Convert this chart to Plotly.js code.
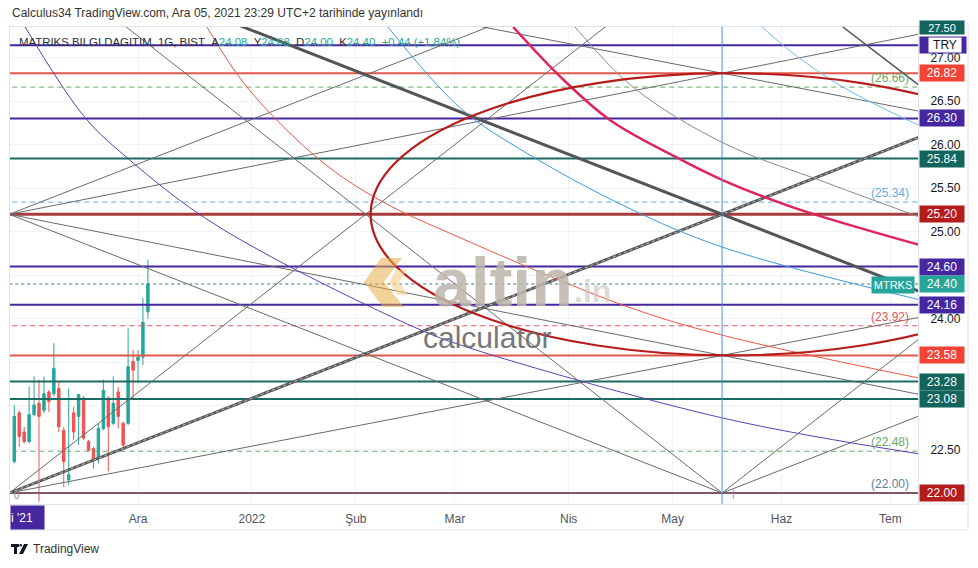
<!DOCTYPE html>
<html><head><meta charset="utf-8">
<script src="https://cdn.plot.ly/plotly-3.0.1.min.js"></script>
<style>html,body{margin:0;padding:0;background:#fff;}#chart{width:978px;height:568px;}</style>
</head><body><div id="chart"></div>
<script>
// ================= DATA =================
const candleDates = ['2021-10-26','2021-10-27','2021-10-28','2021-11-01','2021-11-02','2021-11-03','2021-11-04','2021-11-05','2021-11-08','2021-11-09','2021-11-10','2021-11-11','2021-11-12','2021-11-15','2021-11-16','2021-11-17','2021-11-18','2021-11-19','2021-11-22','2021-11-23','2021-11-24','2021-11-25','2021-11-26','2021-11-29','2021-11-30','2021-12-01','2021-12-02','2021-12-03'];
const candleOpen  = [22.36,22.92,22.70,22.59,22.90,23.03,22.95,23.16,23.14,23.20,22.72,22.15,22.92,22.88,23.09,22.59,22.51,22.40,22.74,23.09,22.80,23.16,22.80,22.80,23.51,23.52,23.56,24.08];
const candleHigh  = [23.01,22.95,22.76,23.22,23.34,23.30,23.34,23.18,23.72,23.28,22.76,23.20,22.99,23.14,23.11,22.61,22.53,22.80,23.30,23.11,23.34,23.22,22.82,23.89,23.64,23.64,24.24,24.68];
const candleLow   = [22.34,22.53,22.57,22.57,22.88,21.90,22.92,22.93,23.11,22.70,22.07,22.09,22.61,22.55,22.61,22.48,22.28,22.34,22.72,22.25,22.78,22.74,22.53,22.78,23.09,23.26,23.47,24.00];
const candleClose = [22.88,22.65,22.59,22.90,23.01,22.88,23.14,23.05,23.43,22.76,22.36,22.21,22.70,23.13,22.63,22.49,22.38,22.74,23.18,22.76,23.03,22.88,22.55,23.45,23.41,23.56,23.96,24.40];
const holidays = ['2021-10-29'];
const originDate = '2021-12-01';

const monthTickDates = ['2021-12-01','2022-01-03','2022-02-01','2022-03-01','2022-04-01','2022-05-02','2022-06-01','2022-07-01'];
const monthTickText  = ['Ara','2022','Şub','Mar','Nis','May','Haz','Tem'];

const priceTickVals  = [22.00,22.50,23.00,23.50,24.00,24.50,25.00,25.50,26.00,26.50,27.00,27.50];
const priceTickText  = ['','22.50','','','24.00','','25.00','25.50','26.00','26.50','27.00',''];

// horizontal levels
const solidLevels     = [27.14, 26.82, 26.30, 25.84, 25.20, 24.60, 24.16, 23.58, 23.28, 23.08, 22.00];
const solidLevelKinds = ['purple','red','purple','teal','darkred','purple','purple','red','teal','teal','brown'];
const dashedLevels    = [26.66, 25.34, 23.92, 22.48];
const dashedKinds     = ['green','blue','red','green'];
const lastPrice = 24.40;
const symbolName = 'MTRKS';

// fan / grid drawing anchors (bar offsets from 1 Ara 2021, prices)
const fanStartBar = -26, fanEndBar = 118;
const pLow = 22.00, pMid = 25.20, pHigh = 28.40, pUp = 26.82, pDn = 23.58;
const ellipseBars = [47, 192];
const ellipsePrices = [23.58, 26.82];

// arcs (bar, price)
const arcPurpleBar = [-22.8,-10.7,-1.6,11.9,27.3,55.6,65.1,118.2,157.8];
const arcPurplePx  = [27.35,26.31,25.82,25.22,24.70,23.91,23.70,22.86,22.45];
const arcRedBar = [13.9,22.0,36.8,48.9,65.1,98.8,118.2,157.8];
const arcRedPx  = [27.35,26.66,25.82,25.36,24.93,24.14,23.81,23.32];
const arcBlueBar = [50.5,65.1,78.6,98.8,118.2,157.8];
const arcBluePx  = [27.35,26.42,25.90,25.28,24.82,24.22];
const arcPinkBar = [75.8,85.3,95.4,108.9,118.2,132.3,157.8];
const arcPinkPx  = [27.35,26.78,26.28,25.85,25.59,25.28,24.85];
const arcGrayBar = [88.3,100.0,118.2,139.2,157.8];
const arcGrayPx  = [27.35,26.66,26.02,25.56,25.17];
const arcBlue2Bar = [126.1,132.3,142.4,157.8];
const arcBlue2Px  = [27.35,27.05,26.66,26.22];
const arcDarkBar = [142.4,157.8];
const arcDarkPx  = [27.35,26.68];

// ================= HELPERS =================
function tradingIndex(s){
  const d = new Date(s+'T00:00:00Z'), o = new Date(originDate+'T00:00:00Z');
  let n = 0; const step = d >= o ? 1 : -1; const cur = new Date(o);
  while (cur.getTime() !== d.getTime()){
    cur.setUTCDate(cur.getUTCDate()+step);
    const wd = cur.getUTCDay(), iso = cur.toISOString().slice(0,10);
    if (wd!==0 && wd!==6 && !holidays.includes(iso)) n += step;
  }
  return n;
}
const FONT = 'Liberation Sans, Arial, sans-serif';
const PL=10, PR=918, PT=27, PB=504, PW=PR-PL, PH=PB-PT;
const PX = p => (p-PL)/PW, PY = p => (PB-p)/PH;
const XMIN=-25.86, XMAX=157.58, YMIN=21.874, YMAX=27.35;
const EXT = 175;

const lineColor = {purple:'#4527a0', red:'#e0584b', teal:'#1a6b63', darkred:'#a63c3c', brown:'#7e5866'};
const lineWidth = {purple:2, red:2, teal:2, darkred:3, brown:2};
const boxColor  = {purple:'#4527a0', red:'#f44336', teal:'#12645c', darkred:'#b71c1c', brown:'#b71c1c'};
const dashColor = {green:'#66a866', blue:'#62aee6', red:'#e25555'};

const traces = [];
traces.push({type:'candlestick', x:candleDates.map(tradingIndex), open:candleOpen, high:candleHigh, low:candleLow, close:candleClose,
  increasing:{line:{color:'#26a69a',width:1}, fillcolor:'#26a69a'},
  decreasing:{line:{color:'#ef5350',width:1}, fillcolor:'#ef5350'},
  whiskerwidth:0, hoverinfo:'skip', showlegend:false});

function seg(x0,y0,x1,y1,ext){
  if(ext){ const k=(y1-y0)/(x1-x0); return [[x0,EXT],[y0,y0+k*(EXT-x0)]]; }
  return [[x0,x1],[y0,y1]];
}
function addLine(s, color, width, dash){
  traces.push({type:'scatter', mode:'lines', x:s[0], y:s[1], line:{color, width, dash:dash||'solid'}, hoverinfo:'skip', showlegend:false});
}
solidLevels.forEach((v,i)=>{ const k=solidLevelKinds[i]; addLine([[XMIN-5,EXT],[v,v]], lineColor[k], lineWidth[k]); });
dashedLevels.forEach((v,i)=>{ addLine([[XMIN-5,EXT],[v,v]], dashColor[dashedKinds[i]], 1, '5px,4px'); });
addLine([[XMIN-5,EXT],[lastPrice,lastPrice]], '#3f7c76', 1, 'dot');

const X0=fanStartBar, X1=fanEndBar, X2=2*fanEndBar-fanStartBar;
const thin='#6a6a6a';
[[X0,pMid,X1,pHigh,true],[X0,pMid,X1,pUp,true],[X0,pMid,X1,pDn,true],[X0,pMid,X1,pLow,false],
 [X0,pLow,X1,pHigh,true],[X0,pLow,X1,pDn,true],[X0,pHigh,X1,pLow,false],[X0,pHigh,X1,pUp,true],
 [X1,pLow,X2,pHigh,false],[X1,pLow,X2,pMid,false]].forEach(l=>addLine(seg(...l), thin, 1));
addLine(seg(X0,pLow,X1,pMid,true), '#5a5a5a', 3);
addLine(seg(X0,pLow,X1,pMid,true), '#b8b8b8', 1, 'dot');
addLine(seg(X0,pHigh,X1,pMid,true), '#555555', 3);

function addArc(xs,ys,color,width){ traces.push({type:'scatter',mode:'lines',x:xs,y:ys,line:{color,width,shape:'spline',smoothing:1},hoverinfo:'skip',showlegend:false}); }
addArc(arcPurpleBar, arcPurplePx, '#5e3fb5', 1);
addArc(arcRedBar, arcRedPx, '#f05545', 1);
addArc(arcBlueBar, arcBluePx, '#3f9be0', 1);
addArc(arcPinkBar, arcPinkPx, '#e0245e', 2.5);
addArc(arcGrayBar, arcGrayPx, '#8a8a8a', 1);
addArc(arcBlue2Bar, arcBlue2Px, '#74b8ee', 1);
addArc(arcDarkBar, arcDarkPx, '#555555', 1.5);
addLine([[fanEndBar,fanEndBar],[YMIN-1,YMAX+1]], '#4a90d9', 1);

// ================= ANNOTATIONS =================
const ann = [];
function axisBox(v, bg, txt){
  ann.push({xref:'paper', yref:'y', x:1, y:v, xanchor:'left', yanchor:'middle', xshift:1, text:txt, showarrow:false,
    bgcolor:bg, width:44, height:16, borderpad:0, font:{family:FONT, size:12, color:'#ffffff'}});
}
solidLevels.forEach((v,i)=>{ if(i>0) axisBox(v, boxColor[solidLevelKinds[i]], v.toFixed(2)); });
axisBox(lastPrice, '#26a69a', lastPrice.toFixed(2));
ann.push({xref:'paper', yref:'y', x:1, y:solidLevels[0], xanchor:'left', yanchor:'middle', xshift:1, text:' ', showarrow:false, bgcolor:boxColor.purple, width:46, height:16, borderpad:0});
ann.push({xref:'paper', yref:'y', x:1, y:solidLevels[0], xanchor:'left', yanchor:'middle', xshift:10, text:'TRY', showarrow:false, bgcolor:'#ffffff', width:32, height:14, borderpad:0, font:{family:FONT,size:12,color:'#131722'}});
ann.push({xref:'paper', yref:'paper', x:1, y:PY(27.5), xanchor:'left', yanchor:'middle', xshift:1, text:'27.50', showarrow:false, bgcolor:'#12645c', width:44, height:13, borderpad:0, font:{family:FONT,size:11,color:'#ffffff'}});
ann.push({xref:'paper', yref:'paper', x:PX(893), y:PY(285), xanchor:'center', yanchor:'middle', text:symbolName, showarrow:false, bgcolor:'#26a69a', width:42, height:16, borderpad:0, font:{family:FONT,size:11,color:'#ffffff'}});
dashedLevels.forEach((v,i)=>{ ann.push({xref:'paper', yref:'y', x:PX(911), y:v, xanchor:'right', yanchor:'bottom', text:'('+v.toFixed(2)+')', showarrow:false, font:{family:FONT,size:12,color:dashColor[dashedKinds[i]]}}); });
ann.push({xref:'paper', yref:'y', x:PX(911), y:pLow, xanchor:'right', yanchor:'bottom', text:'('+pLow.toFixed(2)+')', showarrow:false, font:{family:FONT,size:12,color:'#5f7f9f'}});
ann.push({xref:'paper', yref:'paper', x:PX(17), y:PY(495), xanchor:'center', yanchor:'middle', text:'0', showarrow:false, font:{family:FONT,size:10,color:'#888'}});
ann.push({xref:'paper', yref:'paper', x:PX(733), y:PY(494), xanchor:'center', yanchor:'middle', text:'|', showarrow:false, font:{family:FONT,size:9,color:'#4a90d9'}});
ann.push({xref:'paper', yref:'paper', x:0, y:PY(13), xanchor:'left', yanchor:'middle', text:'Calculus34 TradingView.com, Ara 05, 2021 23:29 UTC+2 tarihinde yayınlandı', showarrow:false, font:{family:FONT,size:12,color:'#333333'}});
const tc = s => '<span style="color:#26a69a">'+s+'</span>';
const sp = '\u00a0\u00a0';
ann.push({xref:'paper', yref:'paper', x:PX(17), y:PY(42), xanchor:'left', yanchor:'middle',
  text:'MATRIKS BILGI DAGITIM, 1G, BIST'+sp+'A'+tc('24.08')+sp+'Y'+tc('24.68')+sp+'D'+tc('24.00')+sp+'K'+tc('24.40')+sp+tc('+0.44 (+1,84%)'),
  showarrow:false, font:{family:FONT,size:11.4,color:'#2a2e39'}});
ann.push({xref:'paper', yref:'paper', x:0, y:PY(517.5), xanchor:'left', yanchor:'middle', text:"i '21", showarrow:false, bgcolor:'#4527a0', width:33, height:23, borderpad:0, align:'left', font:{family:FONT,size:12,color:'#ffffff'}});
ann.push({xref:'paper', yref:'paper', x:PX(431), y:PY(282), xanchor:'left', yanchor:'middle', text:'<b>altin</b>', showarrow:false, opacity:0.85, font:{family:FONT,size:68,color:'#bdb6ab'}});
ann.push({xref:'paper', yref:'paper', x:PX(572), y:PY(291), xanchor:'left', yanchor:'middle', text:'<b>.in</b>', showarrow:false, opacity:0.6, font:{family:FONT,size:32,color:'#c9c2b8'}});
ann.push({xref:'paper', yref:'paper', x:PX(421), y:PY(338), xanchor:'left', yanchor:'middle', text:'calculator', showarrow:false, opacity:0.9, font:{family:FONT,size:30,color:'#6a6a6a'}});
ann.push({xref:'paper', yref:'paper', x:PX(31), y:PY(549), xanchor:'left', yanchor:'middle', text:'TradingView', showarrow:false, font:{family:FONT,size:12,color:'#333333'}});

// ================= SHAPES =================
function pathPx(pts){ return 'M '+pts.map(p=>PX(p[0]).toFixed(4)+','+PY(p[1]).toFixed(4)).join(' L ')+' Z'; }
const shapes = [
  {type:'circle', xref:'x', yref:'y', x0:ellipseBars[0], x1:ellipseBars[1], y0:ellipsePrices[0], y1:ellipsePrices[1], line:{color:'#b71c1c', width:2.2}},
  {type:'path', xref:'paper', yref:'paper', path:pathPx([[381,258],[402,258],[384,282],[404,307],[383,307],[364,282]]), fillcolor:'#e8ae45', opacity:0.55, line:{width:0}},
  {type:'path', xref:'paper', yref:'paper', path:pathPx([[396,270],[407,270],[399,282],[408,295],[397,295],[389,282]]), fillcolor:'#f3d08a', opacity:0.6, line:{width:0}},
  {type:'line', xref:'paper', yref:'paper', x0:PX(968), x1:PX(968), y0:PY(22), y1:PY(530), line:{color:'#e0e3eb', width:1}},
  {type:'line', xref:'paper', yref:'paper', x0:PX(10), x1:PX(968), y0:PY(530), y1:PY(530), line:{color:'#e0e3eb', width:1}},
  {type:'line', xref:'paper', yref:'paper', x0:PX(918), x1:PX(968), y0:PY(504), y1:PY(504), line:{color:'#e0e3eb', width:1}},
  {type:'path', xref:'paper', yref:'paper', path:pathPx([[11,544],[19,544],[19,547],[17,547],[17,554],[14,554],[14,547],[11,547]]), fillcolor:'#131722', line:{width:0}},
  {type:'circle', xref:'paper', yref:'paper', x0:PX(19.5), x1:PX(22), y0:PY(546.5), y1:PY(544), fillcolor:'#131722', line:{width:0}},
  {type:'path', xref:'paper', yref:'paper', path:pathPx([[24,544],[28,544],[23,554],[19,554]]), fillcolor:'#131722', line:{width:0}}
];

const layout = {
  width:978, height:568, margin:{l:PL, r:978-PR, t:PT, b:568-PB, pad:0},
  paper_bgcolor:'#ffffff', plot_bgcolor:'#ffffff', showlegend:false, dragmode:false,
  xaxis:{range:[XMIN,XMAX], tickmode:'array', tickvals:monthTickDates.map(tradingIndex), ticktext:monthTickText,
    showgrid:true, gridcolor:'#f0f3fa', zeroline:false, showline:true, linecolor:'#e0e3eb', mirror:true, ticks:'',
    tickfont:{family:FONT,size:12,color:'#50535e'}, rangeslider:{visible:false}, fixedrange:true, ticklabelstandoff:4},
  yaxis:{range:[YMIN,YMAX], side:'right', tickmode:'array', tickvals:priceTickVals, ticktext:priceTickText,
    showgrid:true, gridcolor:'#f0f3fa', zeroline:false, showline:true, linecolor:'#e0e3eb', mirror:true, ticks:'',
    tickfont:{family:FONT,size:12,color:'#131722'}, fixedrange:true, ticklabelstandoff:9},
  annotations:ann, shapes:shapes
};
Plotly.newPlot('chart', traces, layout, {displayModeBar:false, staticPlot:true});
</script></body></html>
